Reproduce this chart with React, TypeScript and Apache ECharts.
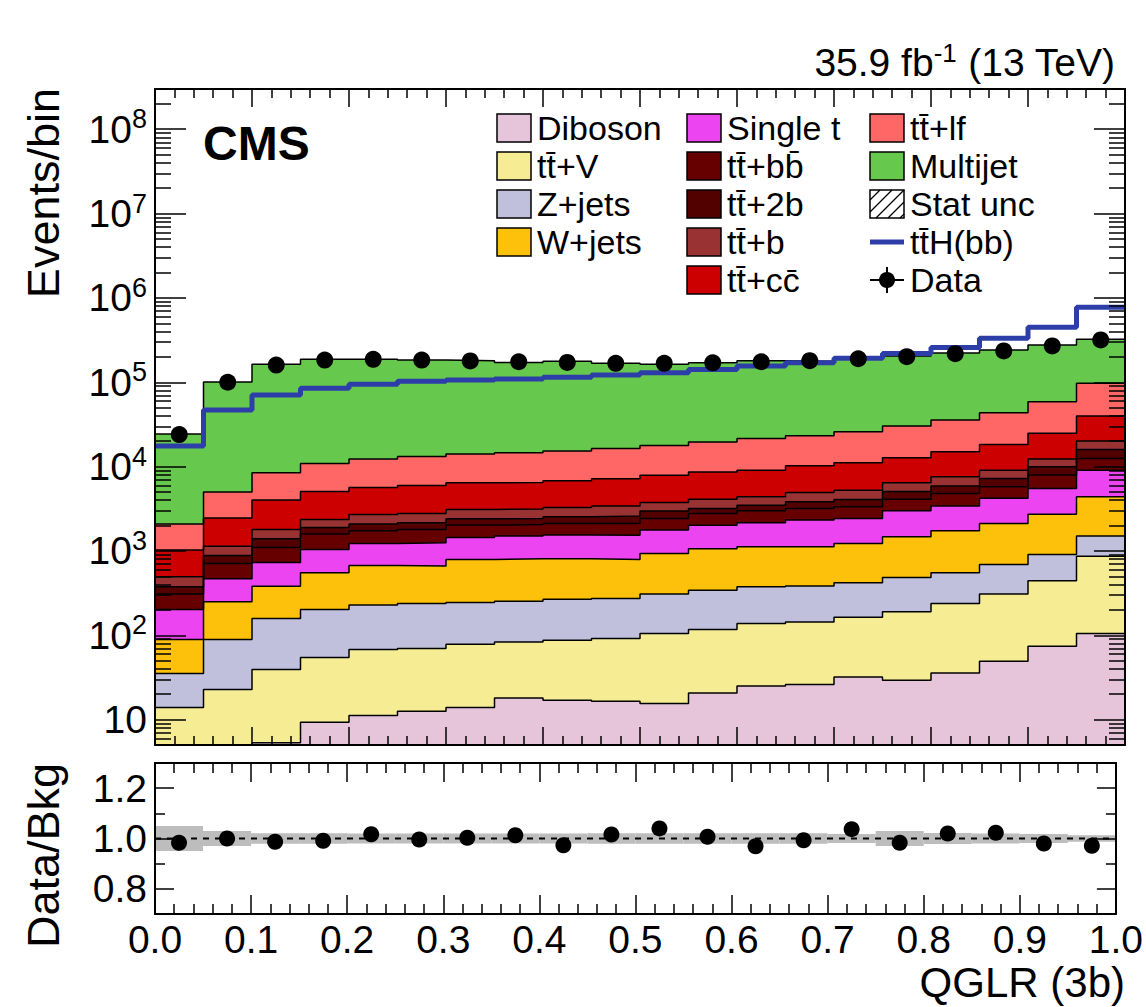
import React, { useEffect, useRef } from 'react';
import * as echarts from 'echarts';

const FONT = '"Liberation Sans", Arial, Helvetica, sans-serif';

// Bin edges of QGLR (3b)
const binEdges = [0.0, 0.05, 0.1, 0.15, 0.2, 0.25, 0.3, 0.35, 0.4, 0.45, 0.5, 0.55, 0.6, 0.65, 0.7, 0.75, 0.8, 0.85, 0.9, 0.95, 1.0];

// Background yields per bin (stack order bottom -> top)
const diboson = [2, 3, 5.3, 9.3, 11.2, 12.6, 13.9, 18.1, 17.0, 16.5, 15.5, 20.7, 25.1, 26.1, 32.1, 29.3, 35.8, 49.3, 74.3, 105];
const ttV = [11.9, 19.8, 34, 45.3, 56.7, 57.1, 64.5, 65.4, 70.5, 75.1, 89.5, 96.3, 113, 118, 131, 161, 202, 259, 368, 762];
const zJets = [21.3, 66.3, 119, 148, 160, 168, 167, 170, 179, 181, 203, 226, 237, 241, 256, 295, 312, 384, 466, 633];
const wJets = [53.9, 160, 224, 348, 445, 427, 548, 552, 540, 520, 626, 717, 744, 734, 808, 985, 1180, 1428, 1822, 2885];
const singleT = [113, 218, 349, 492, 554, 582, 652, 694, 734, 747, 832, 963, 1036, 1201, 1203, 1520, 1670, 2080, 2780, 4695];
const ttbb = [106, 244, 369, 540, 503, 553, 578, 562, 580, 580, 664, 763, 835, 872, 905, 1120, 1410, 1560, 2420, 3420];
const tt2b = [67, 174, 293, 318, 350, 355, 381, 368, 420, 470, 535, 406, 500, 628, 745, 970, 1060, 1480, 2020, 3500];
const ttb = [118, 255, 407, 465, 630, 631, 701, 703, 740, 810, 795, 918, 895, 1120, 1180, 1350, 1700, 1840, 2320, 4050];
const ttcc = [530, 1310, 2210, 2715, 2950, 3194, 3325, 3367, 3510, 3760, 4110, 4500, 4695, 5290, 5830, 6270, 7430, 9260, 12500, 19650];
const ttlf = [1057, 2540, 4430, 5820, 6610, 7220, 7640, 8080, 8490, 9280, 9960, 10930, 12520, 12970, 14790, 17500, 20600, 25110, 33930, 57300];
const multijet = [22220, 95510, 155560, 176100, 174730, 169800, 165930, 157420, 161720, 151060, 145170, 150460, 158400, 154800, 162120, 174300, 186400, 197550, 217300, 226000];

// Signal line and data
const ttHbb = [17500, 46800, 70500, 84700, 94400, 103000, 106000, 109000, 115000, 121700, 129700, 142000, 155600, 170000, 192000, 220000, 259000, 332000, 448000, 773000];
const dataObs = [24000, 100000, 160000, 183000, 187000, 183000, 179000, 175000, 172000, 167500, 167500, 170000, 175000, 180000, 190000, 201000, 218000, 235000, 270000, 318000];

// Ratio panel
const ratioVals = [0.983, 1.0, 0.987, 0.991, 1.017, 0.996, 1.003, 1.013, 0.973, 1.016, 1.04, 1.007, 0.969, 0.993, 1.037, 0.983, 1.02, 1.023, 0.98, 0.971];
const ratioUnc = [0.05, 0.03, 0.021, 0.021, 0.02, 0.02, 0.02, 0.02, 0.02, 0.021, 0.021, 0.021, 0.021, 0.021, 0.018, 0.03, 0.022, 0.02, 0.018, 0.013];

// Axis ticks
const yMin = 5;
const yMax = 3e8;
const mainYExponents = [1, 2, 3, 4, 5, 6, 7, 8];
const minorMantissas = [2, 3, 4, 5, 6, 7, 8, 9];
const minorDecades = [0, 1, 2, 3, 4, 5, 6, 7, 8];
const ratioMajorTicks = [0.8, 1.0, 1.2];
const ratioMinorTicks = [0.7, 0.9, 1.1, 1.3];

const M = '\u0304';
const layers = [
  { name: 'Diboson', values: diboson, color: '#e6c5da' },
  { name: 't' + 't' + M + '+V', values: ttV, color: '#f5ec94' },
  { name: 'Z+jets', values: zJets, color: '#c0c0dc' },
  { name: 'W+jets', values: wJets, color: '#fdc10b' },
  { name: 'Single t', values: singleT, color: '#ec44f0' },
  { name: 'tt' + M + '+bb' + M, values: ttbb, color: '#660000' },
  { name: 'tt' + M + '+2b', values: tt2b, color: '#520000' },
  { name: 'tt' + M + '+b', values: ttb, color: '#993333' },
  { name: 'tt' + M + '+cc' + M, values: ttcc, color: '#cc0000' },
  { name: 'tt' + M + '+lf', values: ttlf, color: '#ff6666' },
  { name: 'Multijet', values: multijet, color: '#66c94d' },
];

const nBins = binEdges.length - 1;

function stepData(vals: number[]) {
  return binEdges.map((x, i) => [x, vals[Math.min(i, nBins - 1)]]);
}

function App() {
  const ref = useRef<HTMLDivElement>(null);

  useEffect(() => {
    document.body.style.margin = '0';
    const chart = echarts.init(ref.current!, null, { renderer: 'svg' });

    // cumulative stacks
    const cums: number[][] = [];
    layers.forEach((l, k) => {
      cums.push(l.values.map((v, i) => v + (k > 0 ? cums[k - 1][i] : 0)));
    });

    const stackSeries = layers
      .map((l, k) => ({
        type: 'line',
        name: l.name,
        xAxisIndex: 0,
        yAxisIndex: 0,
        step: 'end',
        symbol: 'none',
        silent: true,
        data: stepData(cums[k]),
        lineStyle: { color: '#000', width: 1.5 },
        areaStyle: { color: l.color, opacity: 1, origin: 'start' },
        z: 2,
      }))
      .reverse();

    const centers = dataObs.map((_, i) => (binEdges[i] + binEdges[i + 1]) / 2);

    const LMIN = Math.log10(yMin);
    const LMAX = Math.log10(yMax);
    const minorVals: number[] = [];
    minorDecades.forEach((d) => {
      minorMantissas.forEach((m) => {
        const v = m * Math.pow(10, d);
        if (v > yMin && v < yMax) minorVals.push(Math.log10(v));
      });
    });

    const tickLine = { color: '#000', width: 1.5 };
    const mkX = (grid: number, pos: string, labels: boolean) => ({
      type: 'value',
      gridIndex: grid,
      position: pos,
      min: 0,
      max: 1,
      interval: 0.1,
      z: 10,
      axisLine: { show: true, onZero: false, lineStyle: { color: '#000', width: 2 } },
      axisTick: { show: true, inside: true, length: grid === 0 ? 18 : 19, lineStyle: tickLine },
      minorTick: { show: true, splitNumber: 5, length: grid === 0 ? 9 : 10, lineStyle: tickLine },
      axisLabel: labels
        ? { show: true, fontSize: 39, color: '#000', margin: 6, fontFamily: FONT, formatter: (v: number) => v.toFixed(1) }
        : { show: false },
      splitLine: { show: false },
    });

    const mkY = (grid: number, pos: string, min: number, max: number, vals: number[], length: number, line: boolean, label: any) => ({
      type: 'value',
      gridIndex: grid,
      position: pos,
      min,
      max,
      z: 10,
      axisLine: { show: line, onZero: false, lineStyle: { color: '#000', width: 2 } },
      axisTick: { show: true, inside: true, length, customValues: vals, lineStyle: tickLine },
      axisLabel: label ? { ...label, customValues: vals } : { show: false },
      splitLine: { show: false },
    });

    const mainLabel = {
      show: true,
      color: '#000',
      fontSize: 39,
      fontFamily: FONT,
      margin: 8,
      formatter: (v: number) => (Math.round(v) === 1 ? '10' : '10{s|' + Math.round(v) + '}'),
      rich: { s: { fontSize: 27, fontFamily: FONT, color: '#000', padding: [0, 0, 20, 0] } },
    };
    const ratioLabel = {
      show: true,
      color: '#000',
      fontSize: 39,
      fontFamily: FONT,
      margin: 8,
      formatter: (v: number) => v.toFixed(1),
    };

    const txt = (text: string, x: number, y: number, size: number, extra: any = {}) => ({
      type: 'text',
      x,
      y,
      z: 20,
      style: { text, fill: '#000', fontSize: size, fontFamily: FONT, verticalAlign: 'middle', ...extra },
    });

    // legend
    const colX = [497, 687, 870];
    const rowY = [128, 166, 204, 242, 280];
    const swW = 34;
    const swH = 28;
    const legendItems: any[] = [];
    const addBox = (col: number, row: number, color: string, label: string) => {
      legendItems.push({
        type: 'rect',
        z: 20,
        shape: { x: colX[col], y: rowY[row] - swH / 2, width: swW, height: swH },
        style: { fill: color, stroke: '#000', lineWidth: 1.5 },
      });
      legendItems.push(txt(label, colX[col] + 40, rowY[row], 34));
    };
    const legendOrder = [
      [0, 0, 0], [1, 0, 1], [2, 0, 2], [3, 0, 3],
      [4, 1, 0], [5, 1, 1], [6, 1, 2], [7, 1, 3], [8, 1, 4],
      [9, 2, 0], [10, 2, 1],
    ];
    legendOrder.forEach(([li, c, r]) => addBox(c, r, layers[li].color, layers[li].name));
    // stat unc (hatched)
    const hx = colX[2];
    const hy = rowY[2] - swH / 2;
    legendItems.push({
      type: 'rect', z: 20,
      shape: { x: hx, y: hy, width: swW, height: swH },
      style: { fill: '#fff', stroke: '#000', lineWidth: 1.5 },
    });
    [[0, 10, 10, 0], [0, 22, 22, 0], [6, 28, 34, 0], [18, 28, 34, 12], [30, 28, 34, 24]].forEach(([a, b, c, d]) => {
      legendItems.push({
        type: 'line', z: 21,
        shape: { x1: hx + a, y1: hy + b, x2: hx + c, y2: hy + d },
        style: { stroke: '#000', lineWidth: 1.2 },
      });
    });
    legendItems.push(txt('Stat unc', colX[2] + 40, rowY[2], 34));
    // ttH line
    legendItems.push({
      type: 'line', z: 20,
      shape: { x1: colX[2], y1: rowY[3], x2: colX[2] + swW, y2: rowY[3] },
      style: { stroke: '#2e3ea8', lineWidth: 5 },
    });
    legendItems.push(txt('tt' + M + 'H(bb)', colX[2] + 40, rowY[3], 34));
    // data marker
    legendItems.push({
      type: 'line', z: 20,
      shape: { x1: colX[2], y1: rowY[4], x2: colX[2] + swW, y2: rowY[4] },
      style: { stroke: '#000', lineWidth: 2 },
    });
    legendItems.push({
      type: 'line', z: 20,
      shape: { x1: colX[2] + swW / 2, y1: rowY[4] - 13, x2: colX[2] + swW / 2, y2: rowY[4] + 13 },
      style: { stroke: '#000', lineWidth: 2 },
    });
    legendItems.push({
      type: 'circle', z: 21,
      shape: { cx: colX[2] + swW / 2, cy: rowY[4], r: 8 },
      style: { fill: '#000' },
    });
    legendItems.push(txt('Data', colX[2] + 40, rowY[4], 34));

    const option: any = {
      animation: false,
      backgroundColor: '#fff',
      textStyle: { fontFamily: FONT },
      grid: [
        { left: 155, top: 89, width: 970, height: 656 },
        { left: 155, top: 763, width: 970, height: 151 },
      ],
      xAxis: [mkX(0, 'bottom', false), mkX(0, 'top', false), mkX(1, 'bottom', true), mkX(1, 'top', false)],
      yAxis: [
        { type: 'log', gridIndex: 0, min: yMin, max: yMax, logBase: 10, show: false },
        mkY(0, 'left', LMIN, LMAX, mainYExponents, 31, true, mainLabel),
        mkY(0, 'left', LMIN, LMAX, minorVals, 16, false, null),
        mkY(0, 'right', LMIN, LMAX, mainYExponents, 31, true, null),
        mkY(0, 'right', LMIN, LMAX, minorVals, 16, false, null),
        mkY(1, 'left', 0.7, 1.3, ratioMajorTicks, 19, true, ratioLabel),
        mkY(1, 'left', 0.7, 1.3, ratioMinorTicks, 10, false, null),
        mkY(1, 'right', 0.7, 1.3, ratioMajorTicks, 19, true, null),
        mkY(1, 'right', 0.7, 1.3, ratioMinorTicks, 10, false, null),
      ],
      series: [
        ...stackSeries,
        {
          type: 'line',
          name: 'ttH(bb)',
          xAxisIndex: 0,
          yAxisIndex: 0,
          step: 'end',
          symbol: 'none',
          silent: true,
          data: stepData(ttHbb),
          lineStyle: { color: '#2e3ea8', width: 5 },
          z: 3,
        },
        {
          type: 'scatter',
          name: 'Data',
          xAxisIndex: 0,
          yAxisIndex: 0,
          symbol: 'circle',
          symbolSize: 17,
          data: dataObs.map((v, i) => [centers[i], v]),
          itemStyle: { color: '#000', opacity: 1 },
          z: 4,
        },
        {
          type: 'custom',
          name: 'Stat unc',
          xAxisIndex: 2,
          yAxisIndex: 5,
          silent: true,
          data: ratioUnc.map((u, i) => [binEdges[i], binEdges[i + 1], 1 + u, 1 - u]),
          encode: { x: [0, 1], y: [2, 3] },
          renderItem: (params: any, api: any) => {
            const p0 = api.coord([api.value(0), api.value(2)]);
            const p1 = api.coord([api.value(1), api.value(3)]);
            return {
              type: 'rect',
              shape: { x: p0[0], y: p0[1], width: p1[0] - p0[0], height: p1[1] - p0[1] },
              style: { fill: '#bdbdbd' },
            };
          },
          z: 2,
        },
        {
          type: 'line',
          xAxisIndex: 2,
          yAxisIndex: 5,
          symbol: 'none',
          silent: true,
          data: [[0, 1], [1, 1]],
          lineStyle: { color: '#000', width: 2, type: [6, 6] },
          z: 3,
        },
        {
          type: 'scatter',
          name: 'Data/Bkg',
          xAxisIndex: 2,
          yAxisIndex: 5,
          symbolSize: 16,
          data: ratioVals.map((v, i) => [centers[i], v]),
          itemStyle: { color: '#000', opacity: 1 },
          z: 4,
        },
      ],
      graphic: [
        txt('CMS', 203, 143, 48, { fontWeight: 'bold' }),
        {
          type: 'text', x: 1115, y: 62, z: 20,
          style: {
            text: '35.9 fb{s|-1} (13 TeV)', fill: '#000', fontSize: 39, fontFamily: FONT,
            align: 'right', verticalAlign: 'middle',
            rich: { s: { fontSize: 26, fontFamily: FONT, fill: '#000', padding: [0, 0, 18, 0] } },
          },
        },
        txt('Events/bin', 43, 88, 45, { align: 'right' }),
        txt('Data/Bkg', 43, 763, 45, { align: 'right' }),
        txt('QGLR (3b)', 1125, 982, 42, { align: 'right' }),
        ...legendItems,
      ],
    };
    // rotate axis titles
    option.graphic[2].rotation = Math.PI / 2;
    option.graphic[3].rotation = Math.PI / 2;

    chart.setOption(option);
    return () => chart.dispose();
  }, []);

  return <div ref={ref} style={{ width: 1146, height: 1007 }} />;
}

export default App;
